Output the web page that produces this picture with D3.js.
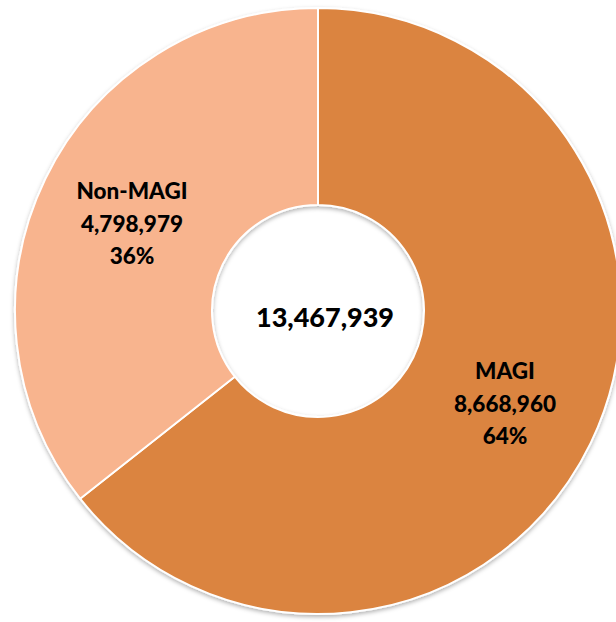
<!DOCTYPE html>
<html>
<head>
<meta charset="utf-8">
<script src="https://cdn.jsdelivr.net/npm/d3@7"></script>
<style>
html,body{margin:0;padding:0;background:#fff;}
svg{display:block;}
</style>
</head>
<body>
<svg id="chart" width="616" height="622"></svg>
<script>
const categories = ["MAGI", "Non-MAGI"];
const values = [8668960, 4798979];
const percentLabels = ["64%", "36%"];
const totalLabel = "13,467,939";
const colors = ["#DB843F", "#F8B48E"];

const svg = d3.select("#chart");
const cx = 318, cy = 311, R = 303, r = 106;

const defs = svg.append("defs");
const f = defs.append("filter").attr("id","sh").attr("x","-10%").attr("y","-10%").attr("width","120%").attr("height","120%");
f.append("feDropShadow").attr("dx",0).attr("dy",2).attr("stdDeviation",2).attr("flood-color","#000").attr("flood-opacity",0.3);

const g = svg.append("g").attr("transform",`translate(${cx},${cy})`);
const pie = d3.pie().sort(null).value(d=>d)(values);
const arc = d3.arc().innerRadius(r).outerRadius(R);

g.append("g").attr("filter","url(#sh)")
 .selectAll("path").data(pie).join("path")
 .attr("d",arc)
 .attr("fill",(d,i)=>colors[i])
 .attr("stroke","#fff").attr("stroke-width",2);

const fmt = d3.format(",");
const labelPos = [[505-cx, 379-cy],[132-cx, 199-cy]];
const lab = g.append("g").attr("font-family","Lato, 'Open Sans', sans-serif").attr("font-weight","900").attr("font-size","22.5px").attr("fill","#000").attr("text-anchor","middle");
pie.forEach((d,i)=>{
  const t = lab.append("text").attr("x",labelPos[i][0]).attr("y",labelPos[i][1]);
  t.append("tspan").attr("x",labelPos[i][0]).attr("dy",0).text(categories[i]);
  t.append("tspan").attr("x",labelPos[i][0]).attr("dy",32.5).text(fmt(values[i]));
  t.append("tspan").attr("x",labelPos[i][0]).attr("dy",32).text(percentLabels[i]);
});

g.append("text").attr("x",325-cx).attr("y",327-cy)
 .attr("text-anchor","middle")
 .attr("font-family","Lato, 'Open Sans', sans-serif").attr("font-weight","900").attr("font-size","27px")
 .text(totalLabel);
</script>
</body>
</html>
